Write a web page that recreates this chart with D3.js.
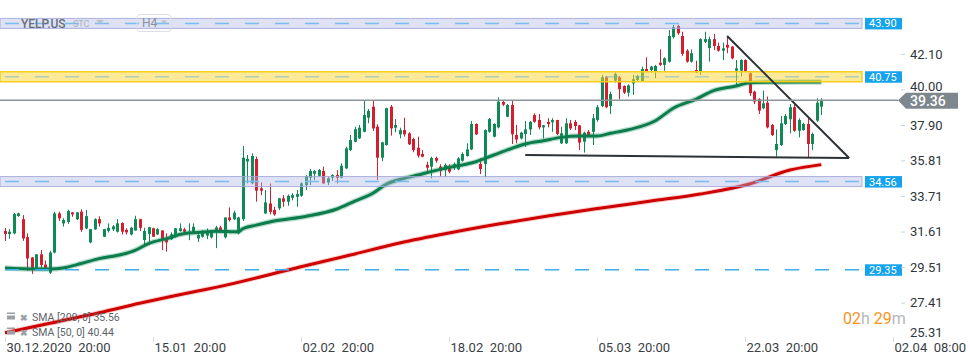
<!DOCTYPE html>
<html>
<head>
<meta charset="utf-8">
<script src="https://cdn.jsdelivr.net/npm/d3@7"></script>
<style>
  body { margin: 0; background: #fff; }
  svg { display: block; font-family: Roboto, "Noto Sans", sans-serif; }
</style>
</head>
<body>
<div id="chart"></div>
<script>
// candles (H4)
const opens = [31.64,31.46,31.50,32.53,32.34,31.28,30.08,29.46,30.26,29.66,29.18,30.37,32.68,32.09,32.18,32.74,32.33,32.78,31.79,30.97,
  31.74,32.34,31.30,31.65,31.74,31.60,32.11,31.71,31.44,31.67,32.34,31.11,31.46,31.80,31.44,31.67,31.20,31.16,31.30,31.64,
  31.74,31.50,31.56,31.20,31.30,31.37,31.27,31.67,31.85,31.27,32.44,32.33,31.50,32.34,35.75,34.46,35.89,34.16,32.68,33.27,
  32.88,32.98,33.57,33.37,33.60,33.66,33.72,34.35,34.79,35.02,34.90,35.18,34.51,34.79,34.94,34.79,35.34,36.42,36.91,37.11,
  37.50,38.33,38.98,37.80,35.97,36.72,38.98,37.74,37.35,37.60,37.41,37.07,36.56,36.19,35.55,35.44,35.95,35.44,35.24,35.40,
  35.40,35.28,35.79,36.07,36.46,37.96,35.60,35.60,37.50,37.21,37.76,39.26,38.39,39.08,37.31,37.11,37.37,37.64,38.49,38.20,
  37.76,38.08,38.06,38.20,36.82,36.82,38.00,38.08,37.88,36.91,37.50,37.50,38.20,39.02,40.72,39.02,40.52,40.72,40.20,39.81,
  40.36,40.56,40.46,41.21,41.15,41.05,41.58,41.45,41.64,43.09,43.75,43.16,42.29,41.64,41.15,41.05,42.81,42.44,42.97,42.57,
  42.29,42.63,42.53,41.11,41.11,41.74,40.96,39.87,39.42,38.89,39.22,37.90,36.42,36.72,37.96,38.24,38.95,37.56,37.60,37.96,
  36.78,38.16,38.98];
const highs = [31.82,31.75,32.70,32.72,32.58,31.50,30.10,30.28,30.52,29.90,30.47,32.78,32.78,32.39,32.90,32.75,32.75,32.92,32.88,31.75,
  32.39,32.51,31.77,32.09,31.99,32.34,32.15,31.80,31.89,32.54,32.36,31.83,31.89,31.83,31.80,31.69,31.50,31.56,31.82,32.09,
  31.83,32.09,32.09,31.50,31.70,31.79,31.66,31.95,31.95,32.44,33.03,32.84,32.48,36.66,36.13,36.23,36.03,34.51,34.06,34.45,
  33.07,33.60,33.76,33.80,33.87,34.06,34.51,34.94,35.30,35.24,35.30,35.44,34.85,35.00,35.24,35.63,36.62,37.31,37.80,37.90,
  39.32,38.85,39.32,37.94,36.91,38.92,39.08,38.25,37.74,38.33,37.47,37.15,37.21,36.42,35.73,36.03,36.03,35.58,35.63,35.58,
  35.69,36.00,36.29,36.82,38.14,38.00,35.93,37.64,38.31,38.00,39.54,39.38,39.14,39.32,37.90,37.50,38.14,38.14,38.59,38.55,
  37.90,38.30,38.30,38.20,37.80,38.30,38.20,38.20,37.90,37.50,37.60,38.55,39.08,40.86,40.80,39.87,41.00,40.80,40.24,40.30,
  40.86,40.86,41.35,41.90,41.39,41.45,42.37,41.90,43.51,43.82,43.82,43.41,42.37,42.37,41.70,43.03,43.41,43.12,43.28,42.77,
  42.77,43.12,42.57,41.74,41.78,41.78,41.00,39.93,39.48,39.93,39.58,37.96,37.64,38.43,38.55,39.14,39.14,38.30,38.03,38.30,
  37.45,39.48,39.48];
const lows = [31.05,31.18,31.45,32.47,31.06,29.29,29.11,29.38,29.46,29.38,29.11,30.32,32.23,31.90,32.06,32.48,32.29,31.59,31.75,30.91,
  31.70,31.90,31.28,31.55,31.64,31.55,31.44,31.44,31.38,31.67,31.64,30.85,30.81,31.30,31.40,30.52,30.42,31.10,31.25,31.60,
  31.44,31.10,31.50,31.00,31.25,31.16,31.20,30.63,31.67,31.21,32.20,32.29,31.44,32.23,34.46,34.40,33.37,33.76,32.64,32.62,
  32.54,32.88,33.07,33.13,33.45,33.07,33.66,34.06,34.35,34.64,34.85,34.45,34.35,34.60,34.45,34.75,35.30,36.36,36.88,37.07,
  37.47,38.00,37.55,34.65,35.77,36.68,37.27,37.47,37.11,37.21,36.72,36.29,35.97,35.99,35.14,34.75,35.67,34.85,34.85,35.04,
  35.24,35.24,35.73,36.03,36.42,37.31,35.00,34.81,37.44,37.17,37.70,39.02,38.36,36.78,36.82,37.05,36.60,37.31,38.03,37.64,
  37.11,37.76,37.50,37.31,36.78,36.78,37.60,37.60,36.42,36.27,37.21,36.72,38.09,38.95,38.89,38.55,40.40,39.42,39.73,39.58,
  39.68,40.46,40.46,41.01,40.99,40.66,41.39,41.11,41.58,43.01,43.22,41.98,41.58,41.58,40.96,40.86,42.73,41.64,42.33,42.23,
  41.74,42.14,41.78,40.26,40.76,41.01,39.62,39.14,38.55,38.83,37.70,37.25,36.03,36.66,37.90,37.41,37.50,37.17,37.56,35.99,
  36.42,38.09,38.49];
const closes = [31.46,31.60,32.64,32.68,31.20,30.02,29.46,30.26,29.63,29.46,30.37,32.68,32.39,32.29,32.82,32.62,32.74,31.71,32.52,31.75,
  32.34,32.09,31.75,31.83,31.91,32.09,31.60,31.56,31.83,32.34,31.83,31.64,31.86,31.30,31.75,31.10,30.97,31.44,31.80,31.80,
  31.60,31.60,31.89,31.40,31.60,31.62,31.56,31.85,31.67,32.44,32.29,32.72,32.44,35.97,35.90,36.07,34.02,34.02,33.33,32.77,
  32.62,33.57,33.37,33.72,33.76,33.82,34.45,34.88,35.18,35.18,35.24,34.45,34.75,34.94,34.79,35.49,36.52,37.01,37.65,37.74,
  38.49,38.73,37.70,35.97,36.88,38.89,37.70,37.90,37.60,37.35,36.76,36.42,36.09,36.03,35.38,35.95,35.79,35.18,35.53,35.14,
  35.60,35.93,36.19,36.46,37.96,37.35,35.30,37.60,38.25,37.96,39.28,39.10,39.08,37.35,37.05,37.45,37.64,38.09,38.09,37.76,
  37.88,37.96,38.20,37.37,37.41,38.00,37.70,37.84,36.86,37.45,37.31,38.30,38.95,40.72,38.95,39.73,40.92,40.01,39.81,40.24,
  40.60,40.80,41.21,41.07,41.35,41.39,41.45,41.84,43.16,43.68,43.32,42.10,41.64,42.14,41.01,42.97,42.97,42.97,42.57,42.29,
  42.43,42.47,41.84,41.25,41.74,41.05,39.78,39.28,38.75,39.18,37.76,37.31,36.78,38.00,38.43,38.95,37.56,38.20,37.96,36.78,
  37.37,39.22,39.36];

// moving averages (bar index, value)
const sma50Idx = [0,7,10,13,17,21,26,29,32,36,40,43,47,52,53,56,60,67,74,78,82,85,89,91,98,105,109,113,116,120,124,128,132,135,139,145,149,154,158,163,166,170,182];
const sma50Val = [29.46,29.40,29.40,29.46,29.72,30.01,30.25,30.50,30.90,31.19,31.49,31.55,31.63,31.59,31.77,31.99,32.23,32.50,32.94,33.41,33.87,34.40,34.75,34.88,35.34,35.73,36.13,36.52,36.78,36.97,37.17,37.25,37.25,37.41,37.62,38.15,38.89,39.42,39.93,40.20,40.40,40.42,40.44];
const sma200Idx = [0,10,21,30,43,47,66,77,88,99,110,121,133,144,155,166,175,182];
const sma200Val = [25.63,26.19,26.81,27.37,28.10,28.31,29.53,30.22,30.93,31.52,32.05,32.53,33.00,33.41,33.82,34.42,35.24,35.56];

// horizontal levels
const levelValues = [43.90, 40.75, 34.56, 29.35];
const levelKinds = ["zone", "gold", "zone", "line"];

// hand-drawn triangle (bar index, price)
const trendBase = [[116, 36.13], [188.2, 35.95]];
const trendTop = [[161, 43.16], [188.2, 35.95]];

const yTicks = [42.10, 40.00, 37.90, 35.81, 33.71, 31.61, 29.51, 27.41, 25.31];
const xTickIdx = [0, 33, 66, 99, 132, 165, 198];
const xTickLabels = ["30.12.2020  20:00", "15.01  20:00", "02.02  20:00", "18.02  20:00", "05.03  20:00", "22.03  20:00", "02.04  08:00"];

const width = 970, height = 364;
const plotRight = 862;

const svg = d3.select("#chart").append("svg")
  .attr("width", width).attr("height", height);

const x = d3.scaleLinear().domain([0, closes.length - 1]).range([5, 821.3]);
const y = d3.scaleLinear().domain([25.31, 43.90]).range([338.2, 23.4]);

const bars = closes.map((c, i) => ({i: i, o: opens[i], h: highs[i], l: lows[i], c: c}));

const GREEN = "#0f8a57", RED = "#d41e2e";

// candles
const cg = svg.append("g");
cg.selectAll("line.wick").data(bars).enter().append("line")
  .attr("x1", d => Math.round(x(d.i)) + 0.5).attr("x2", d => Math.round(x(d.i)) + 0.5)
  .attr("y1", d => y(d.h)).attr("y2", d => y(d.l))
  .attr("stroke", d => d.c >= d.o ? GREEN : RED).attr("stroke-width", 1);
cg.selectAll("rect.body").data(bars).enter().append("rect")
  .attr("x", d => Math.round(x(d.i)) - 1)
  .attr("y", d => y(Math.max(d.o, d.c)))
  .attr("width", 3)
  .attr("height", d => Math.max(1.5, Math.abs(y(d.o) - y(d.c))))
  .attr("fill", d => d.c >= d.o ? GREEN : RED);

// moving averages
const line = d3.line().x(d => x(d[0])).y(d => y(d[1])).curve(d3.curveMonotoneX);
const sma50 = sma50Idx.map((k, i) => [k, sma50Val[i]]);
const sma200 = sma200Idx.map((k, i) => [k, sma200Val[i]]);

svg.append("path").attr("d", line(sma200)).attr("fill", "none")
  .attr("stroke", "rgba(215,0,0,0.2)").attr("stroke-width", 5);
svg.append("path").attr("d", line(sma200)).attr("fill", "none")
  .attr("stroke", "#cf0000").attr("stroke-width", 3);
svg.append("path").attr("d", line(sma50)).attr("fill", "none")
  .attr("stroke", "rgba(20,140,90,0.3)").attr("stroke-width", 5.5);
svg.append("path").attr("d", line(sma50)).attr("fill", "none")
  .attr("stroke", "#0b7c4c").attr("stroke-width", 3);

// level bands / lines
levelValues.forEach((v, k) => {
  const kind = levelKinds[k];
  const yy = y(v);
  if (kind === "zone") {
    svg.append("rect").attr("x", 0).attr("y", yy - 5).attr("width", plotRight).attr("height", 10)
      .attr("fill", "rgba(175,182,228,0.4)").attr("stroke", "rgba(160,166,215,0.85)").attr("stroke-width", 1);
  } else if (kind === "gold") {
    svg.append("rect").attr("x", 0).attr("y", yy - 5).attr("width", plotRight).attr("height", 10)
      .attr("fill", "rgba(250,214,50,0.5)").attr("stroke", "#f5cf1c").attr("stroke-width", 1.5);
  }
  svg.append("line").attr("x1", 5).attr("x2", plotRight).attr("y1", yy).attr("y2", yy)
    .attr("stroke", kind === "gold" ? "rgba(110,180,200,0.55)" : (kind === "zone" ? "#78bdf0" : "#3aaef0"))
    .attr("stroke-width", 1.5).attr("stroke-dasharray", "14,16");
  // value tag
  svg.append("rect").attr("x", 865).attr("y", yy - 5.5).attr("width", 37).attr("height", 11.5).attr("fill", "#15a3eb");
  svg.append("text").attr("x", 869).attr("y", yy + 4).attr("fill", "#fff")
    .attr("font-size", "11px").text(v.toFixed(2));
});

// triangle
svg.append("path").attr("d", d3.line().x(d => x(d[0])).y(d => y(d[1]))(trendBase))
  .attr("fill", "none").attr("stroke", "#2b3237").attr("stroke-width", 2);
svg.append("path").attr("d", d3.line().x(d => x(d[0])).y(d => y(d[1]))(trendTop))
  .attr("fill", "none").attr("stroke", "#2b3237").attr("stroke-width", 2);

// last price line + tag
const last = closes[closes.length - 1];
svg.append("line").attr("x1", 0).attr("x2", 898).attr("y1", y(last)).attr("y2", y(last))
  .attr("stroke", "#8a959a").attr("stroke-width", 1.5);
const ly = y(last);
svg.append("path")
  .attr("d", `M898,${ly} L906,${ly - 7.5} L958,${ly - 7.5} L958,${ly + 8.5} L906,${ly + 8.5} Z`)
  .attr("fill", "#7c888d");
svg.append("text").attr("x", 910).attr("y", ly + 5.5).attr("fill", "#fff")
  .attr("font-size", "14px").attr("font-weight", 500).text(last.toFixed(2));

// y axis
const yAxis = svg.append("g").attr("transform", "translate(901,0)")
  .call(d3.axisRight(y).tickValues(yTicks).tickFormat(d3.format(".2f")).tickSize(4).tickPadding(5));
yAxis.select(".domain").remove();
yAxis.selectAll("line").attr("stroke", "#cfd3d6");
yAxis.selectAll("text").attr("fill", "#30363b").attr("font-size", "13px")
  .attr("font-family", "Roboto, sans-serif");
yAxis.selectAll(".tick").filter(d => d === 40.00).select("text").attr("dy", "0.1em");
yAxis.selectAll(".tick").filter(d => d === 25.31).attr("transform", `translate(0,${y(25.31) - 5})`)
  .select("line").remove();

// x axis
const xAxis = svg.append("g").attr("transform", "translate(0,337)")
  .call(d3.axisBottom(x).tickValues(xTickIdx).tickFormat((d, i) => xTickLabels[i]).tickSize(5).tickPadding(1));
xAxis.select(".domain").remove();
xAxis.selectAll("line").attr("stroke", "#d8dcdf");
xAxis.selectAll("text").attr("text-anchor", "start").attr("x", 1)
  .attr("fill", "#3a4045").attr("font-size", "13px").attr("font-family", "Roboto, sans-serif")
  .style("white-space", "pre");

// top-left header
svg.append("text").attr("x", 21).attr("y", 27.5).attr("fill", "#67707a")
  .attr("font-size", "12px").attr("font-weight", 500).text("YELP.US");
svg.append("text").attr("x", 73).attr("y", 27).attr("fill", "#a9b0c0")
  .attr("font-size", "9px").text("STC");
svg.append("path").attr("d", "M96,20 L104,20 L100,24 Z").attr("fill", "#b9bec8");
svg.append("rect").attr("x", 137).attr("y", 14.5).attr("width", 34).attr("height", 17).attr("rx", 3)
  .attr("fill", "none").attr("stroke", "#dcdfe3");
svg.append("text").attr("x", 142).attr("y", 27).attr("fill", "#8a9098")
  .attr("font-size", "12px").text("H4");
svg.append("path").attr("d", "M161,20.5 L167,20.5 L164,24 Z").attr("fill", "#b9bec8");

// indicator legend
const legendRows = ["SMA [200, 0] " + sma200Val[sma200Val.length - 1].toFixed(2), "SMA [50, 0] " + sma50Val[sma50Val.length - 1].toFixed(2)];
legendRows.forEach((t, i) => {
  const by = 320.5 + i * 15;
  svg.append("rect").attr("x", 7).attr("y", by - 8).attr("width", 8).attr("height", 1.5).attr("fill", "#9aa0a6");
  svg.append("rect").attr("x", 7).attr("y", by - 5).attr("width", 8).attr("height", 4).attr("fill", "#9aa0a6");
  svg.append("text").attr("x", 20).attr("y", by).attr("fill", "#9aa0a6").attr("font-size", "9px")
    .attr("font-weight", 700).text("\u2716");
  svg.append("text").attr("x", 32).attr("y", by).attr("fill", "#5d646b").attr("font-size", "10.5px").text(t);
});

// countdown
const cd = svg.append("text").attr("x", 843).attr("y", 324).attr("font-size", "16px");
cd.append("tspan").attr("fill", "#f7931e").text("02");
cd.append("tspan").attr("fill", "#b3b8bd").text("h ");
cd.append("tspan").attr("fill", "#f7931e").text("29");
cd.append("tspan").attr("fill", "#b3b8bd").text("m");
</script>
</body>
</html>
